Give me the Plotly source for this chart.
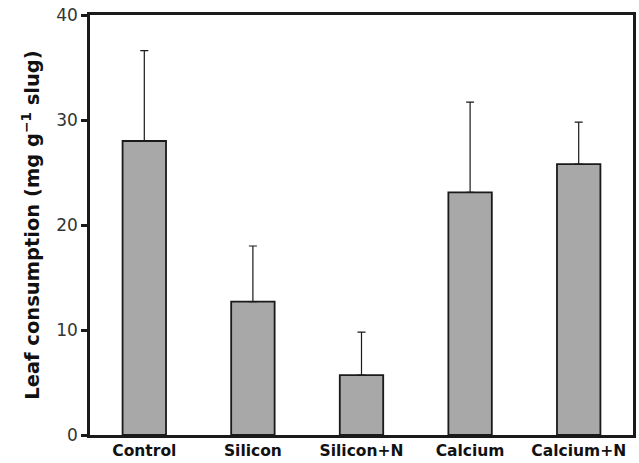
import plotly.graph_objects as go

# Leaf consumption per treatment (mean with upper standard error)
treatments = ["Control", "Silicon", "Silicon+N", "Calcium", "Calcium+N"]
consumption = [28.0, 12.7, 5.7, 23.1, 25.8]
error_upper = [8.6, 5.3, 4.1, 8.6, 4.0]
y_ticks = [0, 10, 20, 30, 40]

fig = go.Figure()
fig.add_trace(go.Bar(
    x=treatments,
    y=consumption,
    marker=dict(color="#a8a8a8", line=dict(color="#1a1a1a", width=1.8)),
    error_y=dict(type="data", symmetric=False, array=error_upper,
                 arrayminus=[0] * len(error_upper),
                 color="#1a1a1a", thickness=1.2, width=4),
))

fig.update_layout(
    width=639, height=463,
    margin=dict(l=90, r=3, t=15, b=27),
    paper_bgcolor="white", plot_bgcolor="white",
    bargap=0.6,
    showlegend=False,
    font=dict(family="DejaVu Sans", color="#222222"),
)
fig.update_xaxes(
    showline=True, linecolor="#1a1a1a", linewidth=2.5, mirror=True,
    ticks="", showgrid=False,
    tickfont=dict(family="DejaVu Sans", size=15.5, color="#111111", weight="bold"),
)
fig.update_yaxes(
    range=[0, 40], tickvals=y_ticks,
    showline=True, linecolor="#1a1a1a", linewidth=2.5, mirror=True,
    ticks="outside", ticklen=6, tickwidth=2.5, tickcolor="#1a1a1a",
    showgrid=False, zeroline=False,
    tickfont=dict(family="DejaVu Sans", size=17, color="#333333"),
    title=dict(text="Leaf consumption (mg g<sup>−1</sup> slug)",
               font=dict(family="DejaVu Sans", size=19.5, color="#111111", weight="bold"),
               standoff=12),
)

fig.write_html("out.html")
